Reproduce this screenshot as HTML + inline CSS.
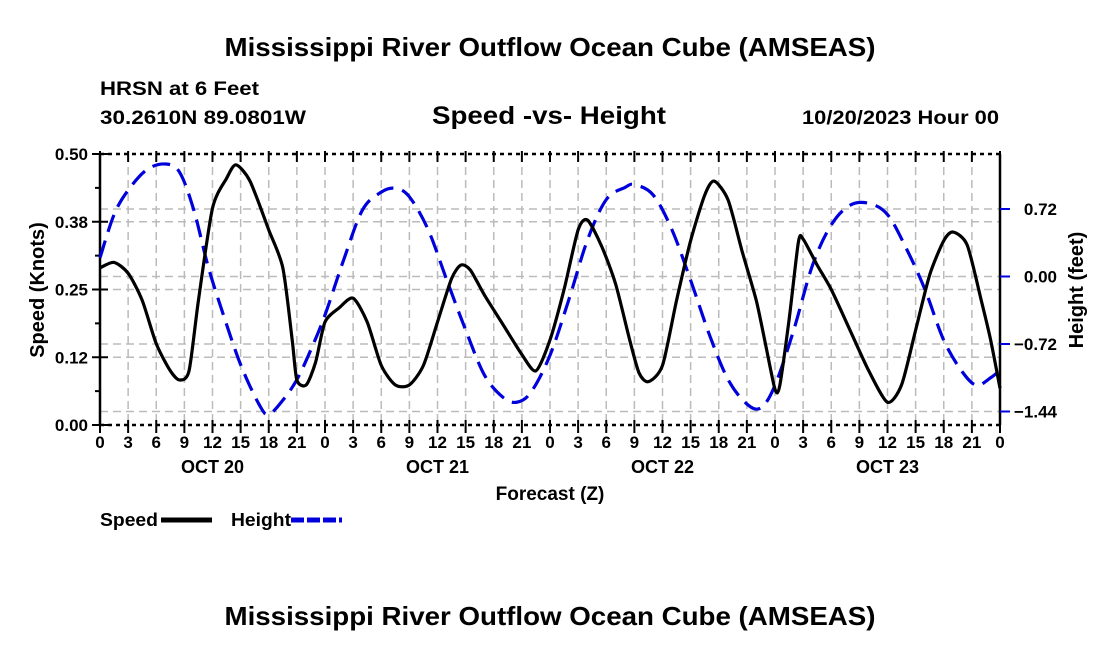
<!DOCTYPE html>
<html><head><meta charset="utf-8"><style>
html,body{margin:0;padding:0;background:#fff;}
svg text{font-family:"Liberation Sans",sans-serif;font-weight:bold;fill:#000;}
</style></head><body>
<svg id="chart" width="1100" height="650" xmlns="http://www.w3.org/2000/svg">
<text x="550" y="56" font-size="26" text-anchor="middle" textLength="651" lengthAdjust="spacingAndGlyphs">Mississippi River Outflow Ocean Cube (AMSEAS)</text>
<text x="100" y="95" font-size="19" textLength="159" lengthAdjust="spacingAndGlyphs">HRSN at 6 Feet</text>
<text x="100" y="124" font-size="19" textLength="206" lengthAdjust="spacingAndGlyphs">30.2610N  89.0801W</text>
<text x="549" y="124" font-size="25" text-anchor="middle" textLength="234" lengthAdjust="spacingAndGlyphs">Speed -vs- Height</text>
<text x="999" y="124" font-size="19" text-anchor="end" textLength="197" lengthAdjust="spacingAndGlyphs">10/20/2023 Hour 00</text>
<g id="grid"></g>
<g id="axes"></g>
<g id="series"></g>
<text transform="translate(44,290) rotate(-90)" font-size="20" text-anchor="middle">Speed (Knots)</text>
<text transform="translate(1083,290) rotate(-90)" font-size="20" text-anchor="middle">Height (feet)</text>
<text x="550" y="500" font-size="19" text-anchor="middle">Forecast (Z)</text>
<g>
<text x="100" y="526" font-size="18" textLength="58" lengthAdjust="spacingAndGlyphs">Speed</text>
<line x1="161" y1="520" x2="212" y2="520" stroke="#000" stroke-width="5"/>
<text x="231" y="526" font-size="18" textLength="60" lengthAdjust="spacingAndGlyphs">Height</text>
<line x1="291" y1="520" x2="342" y2="520" stroke="#0000dd" stroke-width="5" stroke-dasharray="13,3"/>
</g>
<text x="550" y="625" font-size="26" text-anchor="middle" textLength="651" lengthAdjust="spacingAndGlyphs">Mississippi River Outflow Ocean Cube (AMSEAS)</text>
</svg>
<script>
const speedHours=[0,1.5,3,4.5,6,7.5,8.5,9.5,10.5,12,13.5,14.5,16,18,19.5,20.5,21,22,23,24,25.5,27,28.5,30,31.5,33,34.5,36,37.5,38.5,39.5,41,43,45,46.5,48,49.5,51,52,53.5,55,56.5,57.5,58.5,60,61.5,63,64.5,65.5,67,68.5,70,71,72,72.5,73.5,74.5,75,76.5,78,80,82,84,85.5,87,88.5,90,91,92.5,94,95,96];
const speedValues=[0.29,0.30,0.28,0.23,0.15,0.10,0.083,0.10,0.23,0.40,0.455,0.48,0.45,0.36,0.29,0.157,0.083,0.074,0.116,0.19,0.216,0.234,0.19,0.11,0.074,0.074,0.11,0.19,0.27,0.295,0.286,0.24,0.185,0.13,0.10,0.157,0.25,0.36,0.378,0.33,0.26,0.157,0.096,0.08,0.11,0.23,0.34,0.424,0.45,0.415,0.32,0.23,0.148,0.066,0.072,0.194,0.338,0.343,0.295,0.25,0.175,0.10,0.042,0.074,0.175,0.277,0.34,0.356,0.332,0.23,0.157,0.068];
const heightHours=[0,1.5,3,5,7,8.5,10,11.5,13,15,17,18,19.5,21,22.5,24,26,28,30,31.5,33,35,37,39,41,43,44.5,46,48,50,52,54,56,57,59,61,63,65,67,69,70.5,72,74,76,78,80,82,84,86,88,90,92,93.5,95,96];
const heightValues=[0.2,0.66,0.92,1.14,1.2,1.11,0.71,0.12,-0.36,-0.94,-1.37,-1.47,-1.32,-1.10,-0.78,-0.41,0.18,0.71,0.90,0.94,0.85,0.50,-0.04,-0.57,-1.05,-1.29,-1.34,-1.23,-0.84,-0.25,0.39,0.82,0.95,0.98,0.87,0.50,-0.04,-0.62,-1.10,-1.36,-1.40,-1.16,-0.57,0.12,0.55,0.76,0.78,0.66,0.30,-0.14,-0.68,-1.02,-1.16,-1.08,-1.0];
const speedTicks=[0,0.125,0.25,0.375,0.5];
const speedTickLabels=["0.00","0.12","0.25","0.38","0.50"];
const heightTicks=[-1.44,-0.72,0,0.72];
const heightTickLabels=["\u22121.44","\u22120.72","0.00","0.72"];
const dayLabels=["OCT 20","OCT 21","OCT 22","OCT 23"];

const X0=100,X1=1000,YT=154,YB=425;
const xs=h=>X0+(X1-X0)*h/96;
const ys=v=>YB-(YB-YT)*v/0.5;
const yh=v=>276.5-93.75*v;
const NS="http://www.w3.org/2000/svg";
function mk(tag,parent,attrs){const e=document.createElementNS(NS,tag);for(const k in attrs)e.setAttribute(k,attrs[k]);parent.appendChild(e);return e;}
const grid=document.getElementById('grid'),axes=document.getElementById('axes'),series=document.getElementById('series');

for(let h=3;h<96;h+=3){const l=mk('line',grid,{x1:xs(h),x2:xs(h),y1:YT,y2:YB,stroke:'#bbb','stroke-width':1.5,'stroke-dasharray':'8,5'});

}
speedTicks.slice(1,4).forEach(v=>{const l=mk('line',grid,{x1:X0,x2:X1,y1:ys(v),y2:ys(v),stroke:'#bbb','stroke-width':1.5,'stroke-dasharray':'8,5'});

});
heightTicks.forEach(v=>{const l=mk('line',grid,{x1:X0,x2:X1,y1:yh(v),y2:yh(v),stroke:'#bbb','stroke-width':1.5,'stroke-dasharray':'8,5'});

});

[[X0,YT,X0,YB,'#000',''],[X1,YT,X1,YB,'#000',''],[X0,YT,X1,YT,'#000','4,4'],[X0,YB,X1,YB,'#000','4,4']].forEach(a=>{
const l=mk('line',axes,{x1:a[0],y1:a[1],x2:a[2],y2:a[3],stroke:a[4],'stroke-width':2.5,'stroke-dasharray':a[5]});

});

speedTicks.forEach((v,i)=>{
const t=mk('line',axes,{x1:X0-8,x2:X0+8,y1:ys(v),y2:ys(v),stroke:'#000','stroke-width':2});


const tx=mk('text',axes,{x:X0-12,y:ys(v)+6,'font-size':17,'text-anchor':'end'});tx.textContent=speedTickLabels[i];


if(i<4){const m=mk('line',axes,{x1:X0-5,x2:X0,y1:ys(v+0.0625),y2:ys(v+0.0625),stroke:'#000','stroke-width':2});

}});
heightTicks.forEach((v,i)=>{
const t=mk('line',axes,{x1:X1,x2:X1+10,y1:yh(v),y2:yh(v),stroke:'#0000dd','stroke-width':2});


const tx=mk('text',axes,{x:1057,y:yh(v)+6,'font-size':17,'text-anchor':'end'});tx.textContent=heightTickLabels[i];

});
for(let h=0;h<=96;h+=3){
const t=mk('line',axes,{x1:xs(h),x2:xs(h),y1:YB-5,y2:YB+8,stroke:'#000','stroke-width':2});


const tt=mk('line',axes,{x1:xs(h),x2:xs(h),y1:YT-3,y2:YT+8,stroke:'#000','stroke-width':2});


const tx=mk('text',axes,{x:xs(h),y:448,'font-size':17,'text-anchor':'middle'});tx.textContent=String(h%24);

}
dayLabels.forEach((d,i)=>{const tx=mk('text',axes,{x:xs(12+24*i),y:473,'font-size':18,'text-anchor':'middle'});tx.textContent=d;

});

function smooth(pts,k){let d='M'+pts[0][0]+','+pts[0][1];
for(let i=0;i<pts.length-1;i++){const p0=pts[i-1]||pts[i],p1=pts[i],p2=pts[i+1],p3=pts[i+2]||p2;
const c1=[p1[0]+(p2[0]-p0[0])*k,p1[1]+(p2[1]-p0[1])*k],c2=[p2[0]-(p3[0]-p1[0])*k,p2[1]-(p3[1]-p1[1])*k];
d+=' C'+c1[0]+','+c1[1]+' '+c2[0]+','+c2[1]+' '+p2[0]+','+p2[1];}return d;}
const hp=mk('path',series,{d:smooth(heightHours.map((h,i)=>[xs(h),yh(heightValues[i])]),1/6),fill:'none',stroke:'#0000dd','stroke-width':3.2,'stroke-dasharray':'18,9'});


const sp=mk('path',series,{d:smooth(speedHours.map((h,i)=>[xs(h),ys(speedValues[i])]),1/8),fill:'none',stroke:'#000','stroke-width':3.2});


</script>
</body></html>
